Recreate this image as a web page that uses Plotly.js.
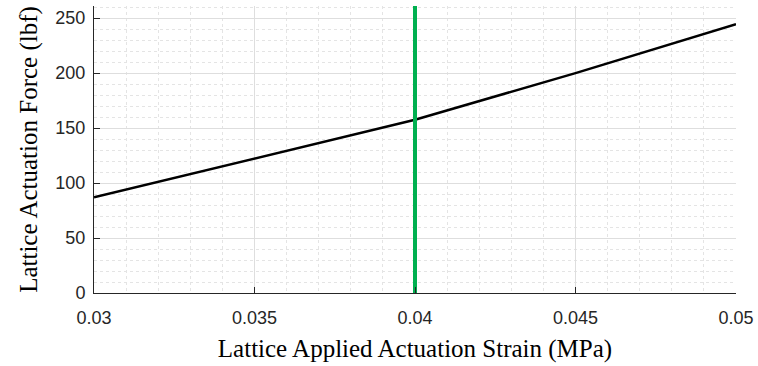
<!DOCTYPE html>
<html><head><meta charset="utf-8">
<script src="https://cdn.plot.ly/plotly-3.0.1.min.js"></script>
<style>html,body{margin:0;padding:0;background:#fff}#chart{width:758px;height:366px}</style>
</head><body><div id="chart"></div>
<script>
const strain = [0.03, 0.035, 0.04, 0.045, 0.05];
const force = [87, 122, 157.5, 200, 244.5];
const markerStrain = [0.04, 0.04];
const markerForce = [0, 261];

const traces = [
  {x: strain, y: force, type: 'scatter', mode: 'lines', line: {color: '#000000', width: 2.5}, hoverinfo: 'skip'},
  {x: markerStrain, y: markerForce, type: 'scatter', mode: 'lines', line: {color: '#00B050', width: 4}, hoverinfo: 'skip'}
];
const layout = {
  width: 758, height: 366, showlegend: false,
  margin: {l: 94, r: 22, t: 6, b: 73},
  paper_bgcolor: '#fff', plot_bgcolor: '#fff',
  font: {family: 'Liberation Sans, Arial, sans-serif', size: 18, color: '#262626'},
  xaxis: {
    range: [0.03, 0.05], dtick: 0.005, tick0: 0.03,
    showline: true, linecolor: '#262626', linewidth: 1,
    ticks: 'inside', ticklen: 6, tickcolor: '#262626', ticklabelstandoff: 8,
    showgrid: true, gridcolor: '#dedede', gridwidth: 1, zeroline: false,
    minor: {dtick: 0.001, showgrid: true, gridcolor: '#e4e4e4', griddash: 'dot', ticks: ''},
    title: {text: 'Lattice Applied Actuation Strain (MPa)', font: {family: 'Liberation Serif, Times New Roman, serif', size: 25, color: '#000'}, standoff: 12}
  },
  yaxis: {
    range: [0, 261], dtick: 50, tick0: 0,
    showline: true, linecolor: '#262626', linewidth: 1,
    ticks: 'inside', ticklen: 6, tickcolor: '#262626', ticklabelstandoff: 4,
    showgrid: true, gridcolor: '#dedede', gridwidth: 1, zeroline: false,
    minor: {dtick: 10, showgrid: true, gridcolor: '#e4e4e4', griddash: 'dot', ticks: ''},
    title: {text: 'Lattice Actuation Force (lbf)', font: {family: 'Liberation Serif, Times New Roman, serif', size: 25, color: '#000'}, standoff: 10}
  }
};
Plotly.newPlot('chart', traces, layout, {staticPlot: true, displayModeBar: false});
</script></body></html>
